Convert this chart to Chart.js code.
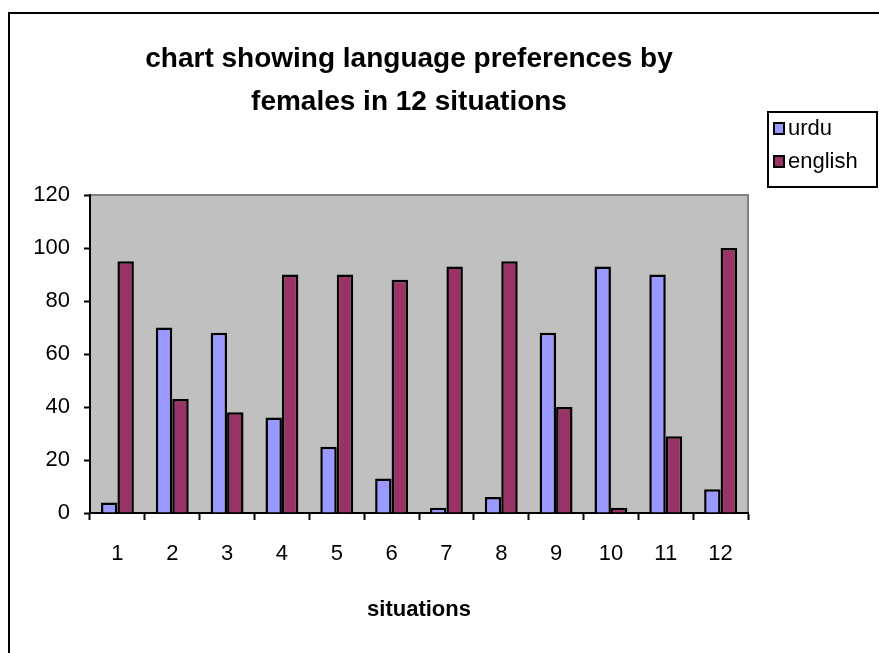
<!DOCTYPE html>
<html>
<head>
<meta charset="utf-8">
<script src="https://cdn.jsdelivr.net/npm/chart.js@4/dist/chart.umd.min.js"></script>
<style>
  html, body { margin: 0; padding: 0; background: #ffffff; }
  #wrap { width: 879px; height: 653px; position: relative; }
</style>
</head>
<body>
<div id="wrap"><canvas id="c" width="879" height="653"></canvas></div>
<script>
// Situations 1..12 and the share of females choosing each language
const situations = ['1', '2', '3', '4', '5', '6', '7', '8', '9', '10', '11', '12'];
const urdu = [4, 70, 68, 36, 25, 13, 2, 6, 68, 93, 90, 9];
const english = [95, 43, 38, 90, 90, 88, 93, 95, 40, 2, 29, 100];
const titleLines = ['chart showing language preferences by', 'females in 12 situations'];
const axisTitle = 'situations';

const FONT = "'Liberation Sans', Arial, sans-serif";

// Frame, grey plot background, title and boxed legend
const decor = {
  id: 'decor',
  beforeDraw(chart) {
    const { ctx, chartArea: a } = chart;
    ctx.save();
    ctx.fillStyle = '#ffffff';
    ctx.fillRect(0, 0, chart.width, chart.height);
    // outer frame (runs off the right and bottom edges)
    ctx.strokeStyle = '#000000';
    ctx.lineWidth = 2;
    ctx.beginPath();
    ctx.moveTo(9, chart.height + 2);
    ctx.lineTo(9, 13);
    ctx.lineTo(chart.width + 2, 13);
    ctx.stroke();
    // plot area
    ctx.fillStyle = '#C0C0C0';
    ctx.fillRect(a.left, a.top, a.right - a.left, a.bottom - a.top);
    ctx.strokeStyle = '#808080';
    ctx.lineWidth = 2;
    ctx.beginPath();
    ctx.moveTo(a.left, a.top);
    ctx.lineTo(a.right, a.top);
    ctx.lineTo(a.right, a.bottom);
    ctx.stroke();
    ctx.restore();
  },
  afterDraw(chart) {
    const { ctx } = chart;
    ctx.save();
    // title
    ctx.fillStyle = '#000000';
    ctx.font = "bold 28px " + FONT;
    ctx.textAlign = 'center';
    ctx.textBaseline = 'alphabetic';
    ctx.fillText(titleLines[0], 409, 67);
    ctx.fillText(titleLines[1], 409, 110);
    // legend box
    const bx = 768, by = 112, bw = 109, bh = 75;
    ctx.fillStyle = '#ffffff';
    ctx.fillRect(bx, by, bw, bh);
    ctx.strokeStyle = '#000000';
    ctx.lineWidth = 2;
    ctx.strokeRect(bx, by, bw, bh);
    ctx.font = "22px " + FONT;
    ctx.textAlign = 'left';
    ctx.textBaseline = 'middle';
    chart.data.datasets.forEach((ds, i) => {
      const cy = by + 16 + i * 33;
      ctx.fillStyle = ds.backgroundColor;
      ctx.fillRect(bx + 6, cy - 5, 10, 11);
      ctx.lineWidth = 2;
      ctx.strokeStyle = '#000000';
      ctx.strokeRect(bx + 6, cy - 5, 10, 11);
      ctx.fillStyle = '#000000';
      ctx.fillText(ds.label, bx + 20, cy + 1);
    });
    ctx.restore();
  }
};

new Chart(document.getElementById('c'), {
  type: 'bar',
  data: {
    labels: situations,
    datasets: [
      {
        label: 'urdu',
        data: urdu,
        backgroundColor: '#9999FF',
        borderColor: '#000000',
        borderWidth: 2.5,
        borderSkipped: 'start',
        categoryPercentage: 0.6,
        barPercentage: 1.0
      },
      {
        label: 'english',
        data: english,
        backgroundColor: '#993366',
        borderColor: '#000000',
        borderWidth: 2.5,
        borderSkipped: 'start',
        categoryPercentage: 0.6,
        barPercentage: 1.0
      }
    ]
  },
  options: {
    responsive: false,
    animation: false,
    devicePixelRatio: 1,
    layout: { padding: { top: 195, right: 131, bottom: 28, left: 0 } },
    plugins: {
      legend: { display: false },
      title: { display: false },
      tooltip: { enabled: false }
    },
    scales: {
      x: {
        offset: true,
        grid: {
          offset: true,
          drawOnChartArea: false,
          drawTicks: true,
          tickLength: 7,
          tickWidth: 2,
          tickColor: '#000000'
        },
        border: { color: '#000000', width: 2 },
        ticks: {
          color: '#000000',
          font: { family: FONT, size: 22 },
          padding: 21,
          maxRotation: 0
        },
        title: {
          display: true,
          text: axisTitle,
          color: '#000000',
          font: { family: FONT, size: 22, weight: 'bold' },
          padding: { top: 10, bottom: 2 }
        },
        afterFit(scale) { scale.height = 112; }
      },
      y: {
        min: 0,
        max: 120,
        grid: {
          drawOnChartArea: false,
          drawTicks: true,
          tickLength: 6,
          tickWidth: 2,
          tickColor: '#000000'
        },
        border: { color: '#000000', width: 2 },
        ticks: {
          stepSize: 20,
          color: '#000000',
          font: { family: FONT, size: 22 },
          padding: 14
        },
        afterFit(scale) { scale.width = 90; }
      }
    }
  },
  plugins: [decor]
});
</script>
</body>
</html>
